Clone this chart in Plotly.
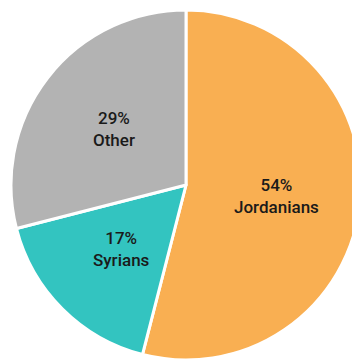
import math
import plotly.graph_objects as go

labels = ["Jordanians", "Syrians", "Other"]
values = [54, 17, 29]
colors = ["#F9AF52", "#33C4C0", "#B3B3B3"]
texts = [f"{v}%<br>{l}" for l, v in zip(labels, values)]

dom_x = [3/360, 353/360]
dom_y = [8/360, 358/360]

fig = go.Figure(go.Pie(
    labels=labels, values=values, sort=False, direction="clockwise", rotation=0,
    textinfo="none",
    marker=dict(colors=colors, line=dict(color="white", width=3)),
    domain=dict(x=dom_x, y=dom_y),
    showlegend=False, hoverinfo="none",
))

# label positions derived from slice mid-angles
cx = (dom_x[0] + dom_x[1]) / 2
cy = (dom_y[0] + dom_y[1]) / 2
R = (dom_x[1] - dom_x[0]) / 2
total = sum(values)
cum = 0
for t, v in zip(texts, values):
    mid = (cum + v / 2) / total * 2 * math.pi
    cum += v
    fig.add_annotation(
        x=cx + 0.52 * R * math.sin(mid), y=cy + 0.52 * R * math.cos(mid),
        xref="paper", yref="paper", text=t, showarrow=False,
        xanchor="center", yanchor="middle", align="center",
        font=dict(family="Roboto", size=17, color="#1a1a1a", weight=500),
    )

fig.update_layout(width=360, height=360, margin=dict(l=0, r=0, t=0, b=0),
                  paper_bgcolor="white", plot_bgcolor="white")
fig.write_html("out.html")
